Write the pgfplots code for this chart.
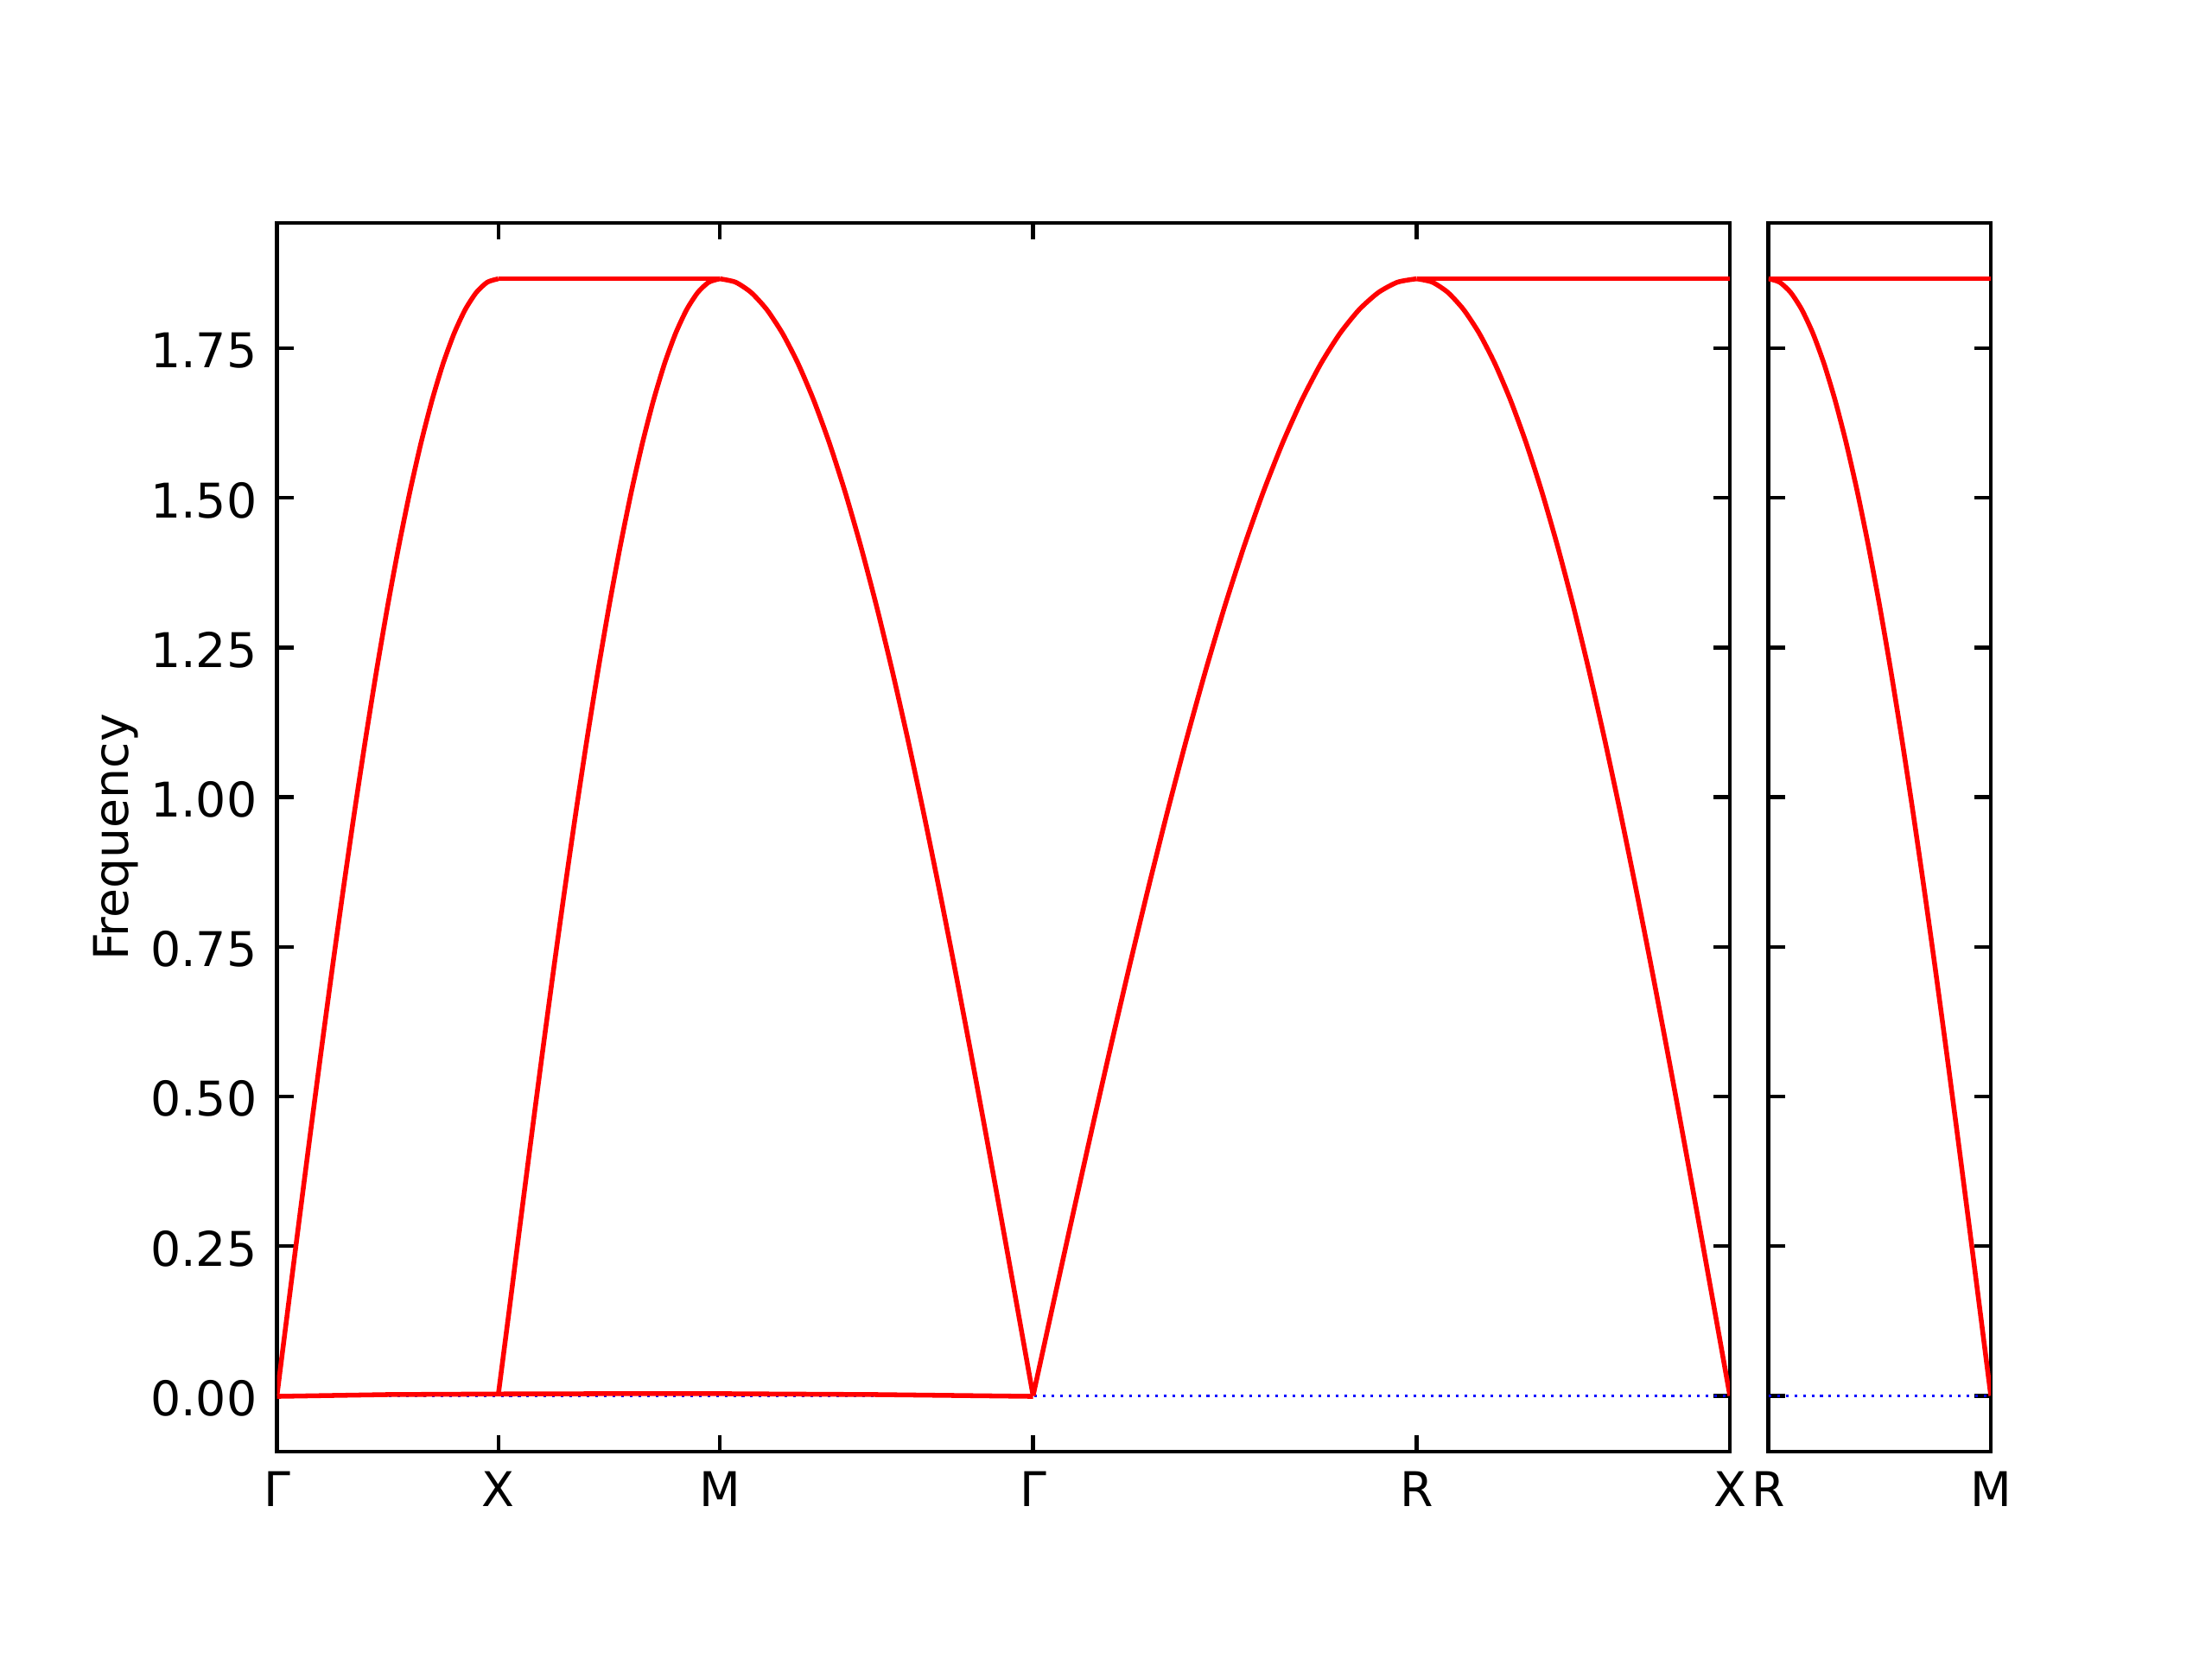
\documentclass[border=0pt]{standalone}
\usepackage{fontspec}
\setmainfont{DejaVu Sans}
\usepackage{pgfplots}
\pgfplotsset{compat=1.18}
\begin{document}
\begin{tikzpicture}
\pgfplotsset{
  bandaxis/.style={
    scale only axis, height=3.555in, ymin=-0.0933, ymax=1.9593,
    tick align=inside, major tick length=3.5pt,
    xtick pos=both, ytick pos=both,
    axis line style={line width=0.8pt, black},
    major tick style={black, line width=0.8pt},
    ytick={0,0.25,0.5,0.75,1,1.25,1.5,1.75},
    tick label style={font=\fontsize{10}{12}\selectfont},
    xticklabel style={inner sep=0pt, anchor=north, yshift=-3.9pt},
    yticklabel style={inner sep=0pt, anchor=east, xshift=-4.0pt, yshift=-0.5pt},
    minor tick num=0,
  },
  band/.style={red, line width=1pt, line join=round, smooth, tension=0.4},
  flat/.style={red, line width=1pt},
  zero/.style={blue, line width=0.55pt, dash pattern=on 0.55pt off 1.25pt},
}
\useasboundingbox (0,0) rectangle (6.4in,4.8in);
\begin{axis}[bandaxis, at={(0.80125in,0.6in)}, anchor=south west, width=4.2038in,
  xmin=0, xmax=6.56047,
  xtick={0,1,2,3.41421,5.14626,6.56047}, xticklabels={Γ,X,M,Γ,R,X},
  yticklabels={0.00,0.25,0.50,0.75,1.00,1.25,1.50,1.75},
  ylabel={Frequency}, ylabel style={font=\fontsize{10}{12}\selectfont, at={(axis description cs:-0.1106,0.5)}, anchor=center}]
\addplot[zero] coordinates {(0,0) (6.56047,0)};
% near-zero band Gamma-X-M-Gamma
\addplot[flat] coordinates {(0,-0.001) (0.5,0.002) (1,0.003) (1.5,0.0035) (2,0.0035) (2.7,0.002) (3.41421,-0.001)};
% Gamma-X rising
\addplot[band] coordinates {
(0,0) (0.05,0.1464) (0.10,0.2919) (0.15,0.4356) (0.20,0.5766) (0.25,0.7141) (0.30,0.8471)
(0.35,0.9750) (0.40,1.0968) (0.45,1.2119) (0.50,1.3195) (0.55,1.4189) (0.60,1.5096)
(0.65,1.5910) (0.70,1.6626) (0.75,1.7240) (0.80,1.7747) (0.85,1.8144) (0.90,1.8430)
(0.95,1.8603) (1.00,1.8660)};
% X-M flat
\addplot[flat] coordinates {(1,1.866) (2,1.866)};
% X-M rising
\addplot[band] coordinates {
(1.00,0.003) (1.05,0.1464) (1.10,0.2919) (1.15,0.4356) (1.20,0.5766) (1.25,0.7141) (1.30,0.8471)
(1.35,0.9750) (1.40,1.0968) (1.45,1.2119) (1.50,1.3195) (1.55,1.4189) (1.60,1.5096)
(1.65,1.5910) (1.70,1.6626) (1.75,1.7240) (1.80,1.7747) (1.85,1.8144) (1.90,1.8430)
(1.95,1.8603) (2.00,1.8660)};
% M-Gamma falling
\addplot[band] coordinates {
(2.00000,1.8660) (2.07071,1.8603) (2.14142,1.8430) (2.21213,1.8144) (2.28284,1.7747)
(2.35355,1.7240) (2.42426,1.6626) (2.49497,1.5910) (2.56569,1.5096) (2.63640,1.4189)
(2.70711,1.3195) (2.77782,1.2119) (2.84853,1.0968) (2.91924,0.9750) (2.98995,0.8471)
(3.06066,0.7141) (3.13137,0.5766) (3.20208,0.4356) (3.27279,0.2919) (3.34350,0.1464)
(3.41421,0)};
% Gamma-R rising
\addplot[band] coordinates {
(3.41421,0) (3.50081,0.1464) (3.58742,0.2919) (3.67402,0.4356) (3.76062,0.5766)
(3.84722,0.7141) (3.93383,0.8471) (4.02043,0.9750) (4.10703,1.0968) (4.19363,1.2119)
(4.28024,1.3195) (4.36684,1.4189) (4.45344,1.5096) (4.54004,1.5910) (4.62665,1.6626)
(4.71325,1.7240) (4.79985,1.7747) (4.88646,1.8144) (4.97306,1.8430) (5.05966,1.8603)
(5.14626,1.8660)};
% R-X flat
\addplot[flat] coordinates {(5.14626,1.866) (6.56047,1.866)};
% R-X falling
\addplot[band] coordinates {
(5.14626,1.8660) (5.21697,1.8603) (5.28768,1.8430) (5.35839,1.8144) (5.42910,1.7747)
(5.49981,1.7240) (5.57052,1.6626) (5.64123,1.5910) (5.71194,1.5096) (5.78265,1.4189)
(5.85337,1.3195) (5.92408,1.2119) (5.99479,1.0968) (6.06550,0.9750) (6.13621,0.8471)
(6.20692,0.7141) (6.27763,0.5766) (6.34834,0.4356) (6.41905,0.2919) (6.48976,0.1464)
(6.56047,0)};
\end{axis}
\begin{axis}[bandaxis, at={(5.1167in,0.6in)}, anchor=south west, width=0.6433in,
  xmin=0, xmax=1, xtick={0,1}, xticklabels={R,M}, yticklabels={}]
\addplot[zero] coordinates {(0,0) (1,0)};
\addplot[flat] coordinates {(0,1.866) (1,1.866)};
\addplot[band] coordinates {
(0,1.8660) (0.05,1.8603) (0.10,1.8430) (0.15,1.8144) (0.20,1.7747) (0.25,1.7240)
(0.30,1.6626) (0.35,1.5910) (0.40,1.5096) (0.45,1.4189) (0.50,1.3195) (0.55,1.2119)
(0.60,1.0968) (0.65,0.9750) (0.70,0.8471) (0.75,0.7141) (0.80,0.5766) (0.85,0.4356)
(0.90,0.2919) (0.95,0.1464) (1.00,0)};
\end{axis}
\end{tikzpicture}
\end{document}
